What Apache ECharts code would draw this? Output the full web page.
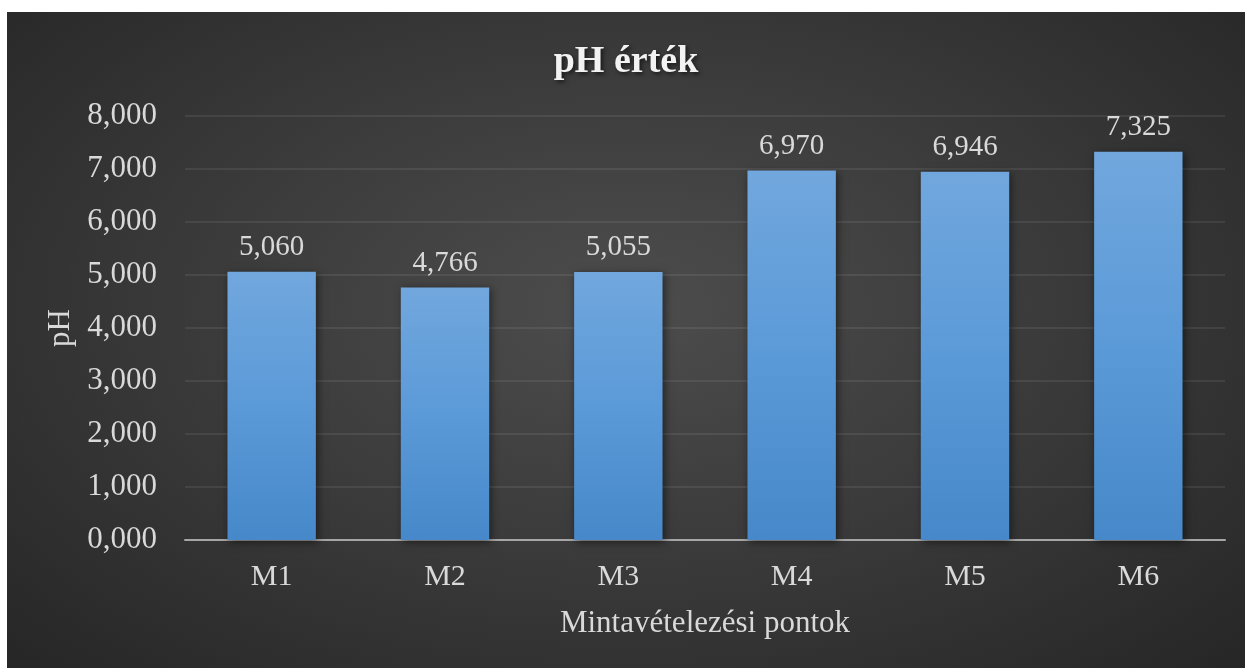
<!DOCTYPE html>
<html>
<head>
<meta charset="utf-8">
<script src="https://cdn.jsdelivr.net/npm/echarts@6/dist/echarts.min.js"></script>
<style>
  html, body { margin: 0; padding: 0; background: #fff; }
  #chart {
    position: absolute; left: 7px; top: 12px; width: 1238px; height: 656px;
    background: radial-gradient(ellipse at 50% 45%, #4d4d4d 0%, #3a3a3a 50%, #262626 100%);
  }
</style>
</head>
<body>
<div id="chart"></div>
<script>
const categories = ['M1', 'M2', 'M3', 'M4', 'M5', 'M6']
const phValues = [5.060, 4.766, 5.055, 6.970, 6.946, 7.325]
const yTicks = [0, 1, 2, 3, 4, 5, 6, 7, 8]

const fmt = v => Number(v).toFixed(3).replace('.', ',')
const serif = '"Liberation Serif", "DejaVu Serif", serif'

const chart = echarts.init(document.getElementById('chart'), null, { renderer: 'canvas' })
chart.setOption({
  backgroundColor: 'transparent',
  title: {
    text: 'pH érték',
    left: 'center',
    top: 26,
    textStyle: {
      color: '#f2f2f2',
      fontFamily: serif,
      fontWeight: 'bold',
      fontSize: 38,
      textShadowColor: 'rgba(0,0,0,0.6)',
      textShadowBlur: 4,
      textShadowOffsetX: 2,
      textShadowOffsetY: 2
    }
  },
  grid: { left: 178, right: 20, top: 104, bottom: 128 },
  xAxis: {
    type: 'category',
    data: categories,
    name: 'Mintavételezési pontok',
    nameLocation: 'middle',
    nameGap: 68,
    nameTextStyle: { color: '#d9d9d9', fontFamily: serif, fontSize: 31 },
    axisLine: { lineStyle: { color: '#a6a6a6', width: 2 } },
    axisTick: { show: false },
    axisLabel: { color: '#d9d9d9', fontFamily: serif, fontSize: 30, margin: 22 }
  },
  yAxis: {
    type: 'value',
    min: yTicks[0],
    max: yTicks[yTicks.length - 1],
    interval: 1,
    name: 'pH',
    nameLocation: 'middle',
    nameGap: 104,
    nameTextStyle: { color: '#d9d9d9', fontFamily: serif, fontSize: 31 },
    axisLine: { show: false },
    axisTick: { show: false },
    splitLine: { lineStyle: { color: 'rgba(255,255,255,0.1)', width: 1.5 } },
    axisLabel: { color: '#d9d9d9', fontFamily: serif, fontSize: 31, margin: 28, formatter: fmt }
  },
  series: [{
    type: 'bar',
    data: phValues,
    barWidth: '51%',
    itemStyle: {
      color: new echarts.graphic.LinearGradient(0, 0, 0, 1, [
        { offset: 0, color: '#71a7dd' },
        { offset: 0.5, color: '#5b9ad8' },
        { offset: 1, color: '#4688c9' }
      ]),
      shadowColor: 'rgba(0,0,0,0.5)',
      shadowBlur: 8,
      shadowOffsetX: 2,
      shadowOffsetY: 2
    },
    label: {
      show: true,
      position: 'top',
      distance: 10,
      color: '#d9d9d9',
      fontFamily: serif,
      fontSize: 29,
      formatter: p => fmt(p.value)
    }
  }]
})
</script>
</body>
</html>
